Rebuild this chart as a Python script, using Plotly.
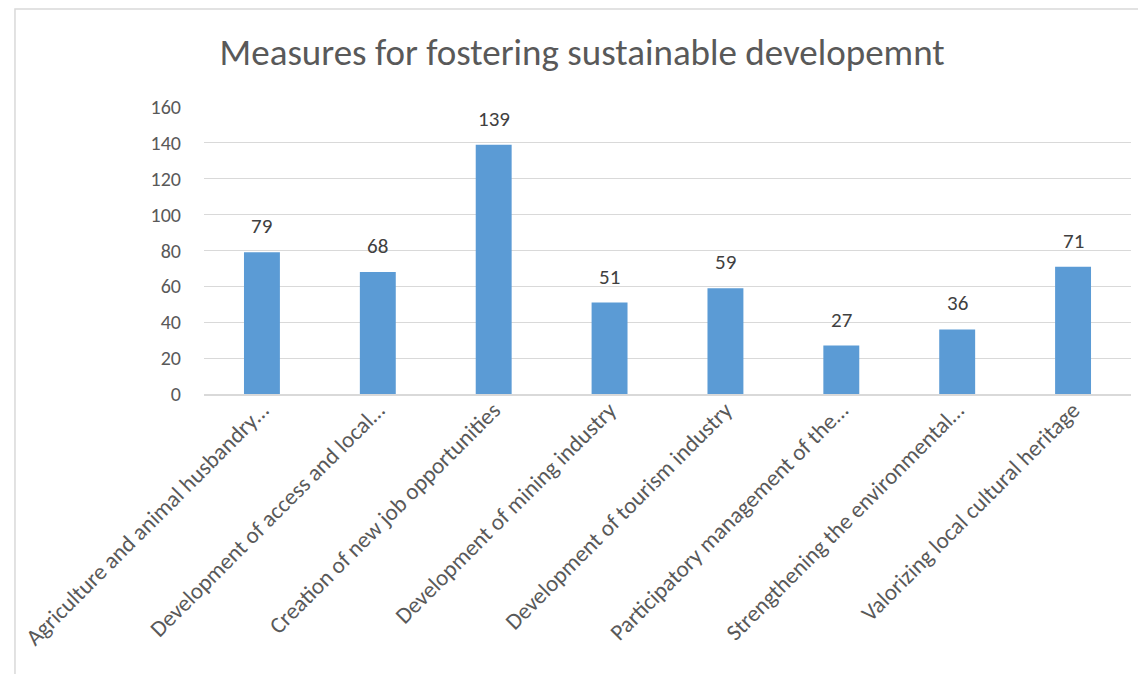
import plotly.graph_objects as go

categories = [
    "Agriculture and animal husbandry…",
    "Development of access and local…",
    "Creation of new job opportunities",
    "Development of mining industry",
    "Development of tourism industry",
    "Participatory management of the…",
    "Strengthening the environmental…",
    "Valorizing local cultural heritage",
]
values = [79, 68, 139, 51, 59, 27, 36, 71]
y_ticks = [0, 20, 40, 60, 80, 100, 120, 140, 160]
title_text = "Measures for fostering sustainable developemnt"

FONT = "Calibri, Carlito, Lato, sans-serif"

fig = go.Figure()
fig.add_trace(go.Bar(
    x=categories, y=values,
    marker=dict(color="#5b9bd5", line=dict(width=0)),
    hoverinfo="x+y",
))

for c, v in zip(categories, values):
    fig.add_annotation(x=c, y=v, text=str(v), showarrow=False,
                       yanchor="middle", yshift=26,
                       font=dict(family=FONT, size=21, color="#404040"))

# outer chart border
fig.add_shape(type="rect", xref="paper", yref="paper",
              x0=-0.2039, x1=1.05, y0=-1.05, y1=1.3415,
              line=dict(color="#d9d9d9", width=1.5), fillcolor="rgba(0,0,0,0)")

fig.update_layout(
    width=1146, height=674,
    margin=dict(l=191, r=23, t=99, b=288),
    paper_bgcolor="white", plot_bgcolor="white",
    bargap=0.69,
    showlegend=False,
    title=dict(text=title_text, x=0.501, xanchor="center", y=0.935, yanchor="middle",
               font=dict(family=FONT, size=37, color="#595959")),
    font=dict(family=FONT, color="#595959"),
)
fig.update_xaxes(tickangle=-45, tickfont=dict(family=FONT, size=23, color="#595959"),
                 showline=True, linecolor="#d9d9d9", linewidth=1.5, ticks="",
                 showgrid=False, ticklabelstandoff=-8)
fig.update_yaxes(range=[0, 160], tickvals=y_ticks, ticks="",
                 tickfont=dict(family=FONT, size=20, color="#595959"),
                 showgrid=True, gridcolor="#d9d9d9", gridwidth=1,
                 zeroline=False, showline=False, ticklabelstandoff=22)

fig.write_html("out.html")
